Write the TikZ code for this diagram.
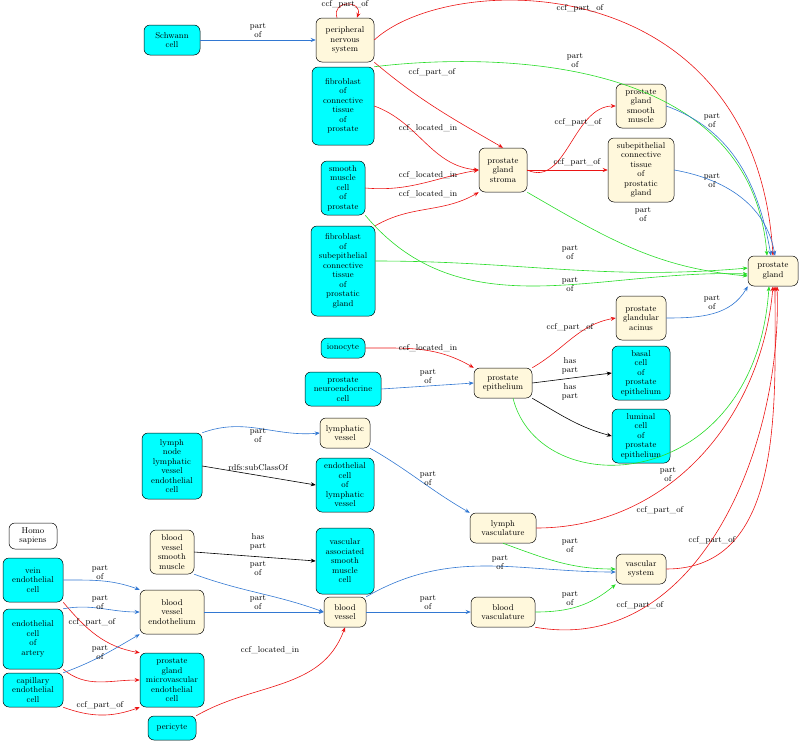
\documentclass[tikz,border=0pt]{standalone}
\usetikzlibrary{arrows.meta}
\definecolor{cyanb}{RGB}{0,255,255}
\definecolor{cream}{RGB}{255,248,220}
\definecolor{eblue}{RGB}{50,120,210}
\definecolor{egreen}{RGB}{40,220,40}
\definecolor{ered}{RGB}{235,20,20}
\begin{document}
\begin{tikzpicture}[x=1pt,y=-1pt,
 every node/.style={font=\fontsize{8.5}{9.5}\selectfont},
 box/.style={draw=black,rounded corners=6pt,align=center,inner sep=1pt,line width=0.5pt},
 cy/.style={box,fill=cyanb},
 cr/.style={box,fill=cream},
 wh/.style={box,fill=white},
 e/.style={-{Stealth[length=5pt,width=4pt]},line width=0.6pt},
 bl/.style={e,eblue},
 gr/.style={e,egreen},
 rd/.style={e,ered},
 bk/.style={e,black},
 lb/.style={align=center,inner sep=0pt,font=\fontsize{8.5}{9}\selectfont,text=black}]
\useasboundingbox (0,0) rectangle (800,742);
% nodes
\node[cy,minimum width=56,minimum height=30] (sch) at (172,40) {Schwann\\cell};
\node[cr,minimum width=58,minimum height=44] (pns) at (345,40) {peripheral\\nervous\\system};
\node[cy,minimum width=62,minimum height=78] (fct) at (343,106) {fibroblast\\of\\connective\\tissue\\of\\prostate};
\node[cr,minimum width=48,minimum height=44] (str) at (503,170) {prostate\\gland\\stroma};
\node[cr,minimum width=50,minimum height=44] (psm) at (641,106) {prostate\\gland\\smooth\\muscle};
\node[cr,minimum width=66,minimum height=64] (sct) at (641,170) {subepithelial\\connective\\tissue\\of\\prostatic\\gland};
\node[cy,minimum width=44,minimum height=54] (smc) at (343,188) {smooth\\muscle\\cell\\of\\prostate};
\node[cy,minimum width=64,minimum height=90] (fsc) at (343,271) {fibroblast\\of\\subepithelial\\connective\\tissue\\of\\prostatic\\gland};
\node[cr,minimum width=50,minimum height=30] (pg) at (773,271) {prostate\\gland};
\node[cr,minimum width=50,minimum height=44] (acn) at (641,318) {prostate\\glandular\\acinus};
\node[cy,minimum width=44,minimum height=20] (ion) at (343,348) {ionocyte};
\node[cy,minimum width=76,minimum height=34] (pne) at (343,389) {prostate\\neuroendocrine\\cell};
\node[cr,minimum width=58,minimum height=30] (epi) at (503,383) {prostate\\epithelium};
\node[cy,minimum width=58,minimum height=54] (bas) at (641,373) {basal\\cell\\of\\prostate\\epithelium};
\node[cy,minimum width=58,minimum height=54] (lum) at (641,436) {luminal\\cell\\of\\prostate\\epithelium};
\node[cy,minimum width=60,minimum height=66] (lnl) at (172,466) {lymph\\node\\lymphatic\\vessel\\endothelial\\cell};
\node[cr,minimum width=50,minimum height=30] (lv) at (345,433) {lymphatic\\vessel};
\node[cy,minimum width=58,minimum height=54] (ecl) at (345,485) {endothelial\\cell\\of\\lymphatic\\vessel};
\node[cr,minimum width=66,minimum height=30] (lva) at (503,528) {lymph\\vasculature};
\node[wh,minimum width=48,minimum height=26] (hs) at (33,536) {Homo\\sapiens};
\node[cy,minimum width=60,minimum height=44] (vec) at (33,580) {vein\\endothelial\\cell};
\node[cr,minimum width=44,minimum height=44] (bvs) at (172,552) {blood\\vessel\\smooth\\muscle};
\node[cy,minimum width=58,minimum height=66] (vas) at (345,561) {vascular\\associated\\smooth\\muscle\\cell};
\node[cr,minimum width=50,minimum height=30] (vs) at (641,569) {vascular\\system};
\node[cy,minimum width=60,minimum height=60] (aec) at (33,639) {endothelial\\cell\\of\\artery};
\node[cr,minimum width=64,minimum height=44] (bve) at (172,612) {blood\\vessel\\endothelium};
\node[cr,minimum width=42,minimum height=30] (bv) at (345,612) {blood\\vessel};
\node[cr,minimum width=64,minimum height=30] (bva) at (503,612) {blood\\vasculature};
\node[cy,minimum width=64,minimum height=54] (pgm) at (172,680) {prostate\\gland\\microvascular\\endothelial\\cell};
\node[cy,minimum width=60,minimum height=34] (cec) at (33,690) {capillary\\endothelial\\cell};
\node[cy,minimum width=48,minimum height=24] (per) at (172,728) {pericyte};
% edges
\draw[bl] (sch) -- (pns);
\draw[rd] ([xshift=-8pt]pns.north) .. controls +(-6,-18) and +(6,-18) .. ([xshift=12pt]pns.north);
\draw[rd] (pns.east) .. controls (450,-30) and (755,-35) .. (pg.north);
\draw[rd] (pns.south east) to[out=-40,in=150] (str.north);
\draw[gr] (fct.north east) .. controls (470,55) and (750,45) .. ([xshift=-6pt]pg.north);
\draw[rd] (fct.east) to[out=-20,in=175] (str.west);
\draw[rd] (str.east) to[out=-25,in=180] (psm.west);
\draw[rd] (str.east) -- (sct.west);
\draw[gr] (str.south east) to[out=-30,in=175] ([yshift=-5pt]pg.west);
\draw[rd] (smc.east) to[out=-5,in=190] (str.west);
\draw[gr] (smc.south east) to[out=-50,in=178] ([yshift=-3pt]pg.west);
\draw[rd] (fsc.north east) to[out=30,in=-150] (str.south west);
\draw[gr] ([yshift=10pt]fsc.east) to[out=0,in=185] ([yshift=3pt]pg.west);
\draw[bl] (psm.east) to[out=-20,in=100] ([xshift=-2pt]pg.north);
\draw[bl] (sct.east) to[out=-10,in=100] ([xshift=2pt]pg.north);
\draw[bl] (acn.east) to[out=0,in=-120] (pg.south west);
\draw[rd] (ion.east) to[out=0,in=150] (epi.north west);
\draw[bl] (pne.east) -- (epi.west);
\draw[rd] (epi.north east) to[out=30,in=190] (acn.west);
\draw[bk] (epi.east) -- (bas.west);
\draw[bk] (epi.south east) to[out=-30,in=165] (lum.west);
\draw[gr] ([xshift=10pt]epi.south) .. controls (540,505) and (755,495) .. ([xshift=-4pt]pg.south);
\draw[bl] (lnl.north east) to[out=20,in=185] (lv.west);
\draw[bk] (lnl.east) -- (ecl.west);
\draw[bl] (lv.south east) to[out=-30,in=150] (lva.north west);
\draw[rd] (lva.east) to[out=0,in=-95] (pg.south);
\draw[gr] (lva.south) to[out=-20,in=180] (vs.west);
\draw[rd] (vs.east) to[out=0,in=-90] ([xshift=2pt]pg.south);
\draw[gr] (bva.east) to[out=0,in=-140] (vs.south west);
\draw[rd] (bva.south east) to[out=-10,in=-88] ([xshift=4pt]pg.south);
\draw[bl] (bv.north east) to[out=30,in=180] ([yshift=-3pt]vs.west);
\draw[bl] (bv.east) -- (bva.west);
\draw[bk] (bvs.east) -- (vas.west);
\draw[bl] (bvs.south east) to[out=-20,in=160] (bv.west);
\draw[bl] (bve.east) -- (bv.west);
\draw[bl] (vec.east) to[out=0,in=160] (bve.north west);
\draw[rd] (vec.south east) to[out=-50,in=170] (pgm.north west);
\draw[bl] (aec.north east) to[out=10,in=180] (bve.west);
\draw[rd] (aec.south east) to[out=-40,in=180] (pgm.west);
\draw[bl] (cec.north east) to[out=20,in=-150] (bve.south west);
\draw[rd] (cec.south east) to[out=-20,in=-160] (pgm.south west);
\draw[rd] (per.north east) to[out=30,in=-110] (bv.south);
% labels
\node[lb] (l1) at (258,30) {part\\of};
\node[lb] (l2) at (345,4) {ccf\_part\_of};
\node[lb] (l3) at (580,8) {ccf\_part\_of};
\node[lb] (l4) at (432,72) {ccf\_part\_of};
\node[lb] (l5) at (575,60) {part\\of};
\node[lb] (l6) at (428,128) {ccf\_located\_in};
\node[lb] (l7) at (578,122) {ccf\_part\_of};
\node[lb] (l8) at (577,162) {ccf\_part\_of};
\node[lb] (l9) at (643,214) {part\\of};
\node[lb] (l10) at (428,175) {ccf\_located\_in};
\node[lb] (l11) at (570,252) {part\\of};
\node[lb] (l12) at (428,194) {ccf\_located\_in};
\node[lb] (l13) at (570,284) {part\\of};
\node[lb] (l14) at (712,120) {part\\of};
\node[lb] (l15) at (712,180) {part\\of};
\node[lb] (l16) at (712,302) {part\\of};
\node[lb] (l17) at (428,348) {ccf\_located\_in};
\node[lb] (l18) at (428,376) {part\\of};
\node[lb] (l19) at (570,327) {ccf\_part\_of};
\node[lb] (l20) at (570,366) {has\\part};
\node[lb] (l21) at (570,392) {has\\part};
\node[lb] (l22) at (668,474) {part\\of};
\node[lb] (l23) at (258,435) {part\\of};
\node[lb] (l24) at (258,468) {rdfs:subClassOf};
\node[lb] (l25) at (428,478) {part\\of};
\node[lb] (l26) at (660,510) {ccf\_part\_of};
\node[lb] (l27) at (570,545) {part\\of};
\node[lb] (l28) at (712,540) {ccf\_part\_of};
\node[lb] (l29) at (570,598) {part\\of};
\node[lb] (l30) at (640,605) {ccf\_part\_of};
\node[lb] (l31) at (500,562) {part\\of};
\node[lb] (l32) at (428,602) {part\\of};
\node[lb] (l33) at (258,542) {has\\part};
\node[lb] (l34) at (258,568) {part\\of};
\node[lb] (l35) at (258,602) {part\\of};
\node[lb] (l36) at (100,572) {part\\of};
\node[lb] (l37) at (100,602) {part\\of};
\node[lb] (l38) at (92,622) {ccf\_part\_of};
\node[lb] (l39) at (100,652) {part\\of};
\node[lb] (l40) at (100,705) {ccf\_part\_of};
\node[lb] (l41) at (270,650) {ccf\_located\_in};
\end{tikzpicture}
\end{document}
